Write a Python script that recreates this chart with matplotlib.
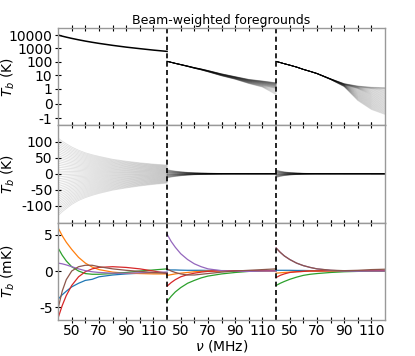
import matplotlib
matplotlib.use("Agg")
import numpy as np
import matplotlib.pyplot as plt
from matplotlib.ticker import NullLocator

# frequency nodes (MHz), shared by all three segments
nu = [40, 43, 46, 50, 55, 60, 65, 70, 80, 90, 100, 110, 120]

# --- top row (K): foreground spectra ---
top_seg1 = [10000, 8320, 7000, 5660, 4440, 3550, 2900, 2400, 1710, 1260, 970, 755, 606]
top_seg2_hi = [112, 95, 80, 65, 50, 38, 30, 23, 13, 8, 5, 3.8, 2.8]
top_seg2_lo = [108, 90, 75, 60, 45, 33, 25, 18, 9, 5, 2.4, 1.3, 0.6]
top_seg3_hi = [110, 90, 74, 58, 42, 28, 20, 14, 5.5, 2.4, 1.6, 1.3, 1.2]
top_seg3_lo = [108, 88, 72, 56, 40, 27, 19, 13, 4.8, 1.4, 0.2, -0.4, -0.73]

# --- middle row (K): residual fan envelopes ---
mid_seg1_hi = [111, 101, 93, 83, 73, 65, 59, 54, 45, 39, 34, 30, 27]
mid_seg1_lo = [-130, -118, -108, -95, -83, -74, -67, -61, -51, -44, -38, -33, -29]
mid_seg2_hi = [13, 10.5, 8.5, 6.5, 4.5, 3.2, 2.4, 1.8, 1.0, 0.6, 0.3, 0.2, 0.1]
mid_seg2_lo = [-13, -10.5, -8.5, -6.5, -4.5, -3.2, -2.4, -1.8, -1.0, -0.6, -0.3, -0.2, -0.1]
mid_seg3_hi = [12, 8.5, 6, 4, 2.5, 1.5, 1.0, 0.6, 0.3, 0.1, 0.05, 0, 0]
mid_seg3_lo = [-12, -8.5, -6, -4, -2.5, -1.5, -1.0, -0.6, -0.3, -0.1, -0.05, 0, 0]

# spread of the individual curves between the envelopes
fan_w = [0.0, 0.025, 0.05, 0.075, 0.1, 0.125, 0.15, 0.175, 0.2, 0.225, 0.25, 0.275,
         0.3, 0.325, 0.35, 0.375, 0.4, 0.425, 0.45, 0.475, 0.5, 0.525, 0.55, 0.575,
         0.6, 0.625, 0.65, 0.675, 0.7, 0.725, 0.75, 0.775, 0.8, 0.825, 0.85, 0.875,
         0.9, 0.925, 0.95, 0.975, 1.0]

# --- bottom row (mK): modes, one list per colour, three segments each ---
blue = [
    [-3.9, -3.3, -2.8, -2.2, -1.7, -1.3, -1.15, -0.8, -0.55, -0.4, -0.3, -0.25, -0.2],
    [0.15, 0.15, 0.15, 0.12, 0.1, 0.1, 0.1, 0.08, 0.06, 0.05, 0.05, 0.05, 0.05],
    [0.1, 0.1, 0.1, 0.1, 0.08, 0.08, 0.06, 0.05, 0.05, 0.05, 0.05, 0.05, 0.05],
]
orange = [
    [6.0, 4.9, 4.0, 3.0, 1.9, 1.1, 0.55, 0.2, -0.15, -0.3, -0.35, -0.4, -0.4],
    [-0.6, -0.5, -0.4, -0.3, -0.2, -0.1, -0.05, 0, 0, 0, 0, 0, 0],
    [-0.3, -0.25, -0.2, -0.15, -0.1, -0.05, 0, 0, 0, 0, 0, 0, 0],
]
green = [
    [3.2, 2.2, 1.4, 0.6, 0.0, -0.35, -0.45, -0.45, -0.35, -0.2, 0.0, 0.15, 0.3],
    [-4.2, -3.5, -2.9, -2.3, -1.7, -1.3, -0.95, -0.7, -0.4, -0.2, -0.05, 0.05, 0.1],
    [-2.0, -1.7, -1.45, -1.15, -0.85, -0.6, -0.45, -0.35, -0.2, -0.1, -0.05, 0, 0],
]
red = [
    [-6.5, -4.8, -3.4, -2.0, -0.8, -0.1, 0.3, 0.5, 0.6, 0.5, 0.3, 0.0, -0.3],
    [-2.1, -1.6, -1.2, -0.8, -0.5, -0.3, -0.15, -0.05, 0.05, 0.05, 0.05, 0.05, 0.05],
    [-0.9, -0.6, -0.4, -0.2, -0.1, -0.05, 0, 0, 0.05, 0.05, 0.05, 0.05, 0.05],
]
purple = [
    [1.1, 1.0, 0.85, 0.6, 0.3, 0.05, -0.1, -0.2, -0.3, -0.3, -0.25, -0.2, -0.15],
    [5.1, 4.1, 3.3, 2.4, 1.6, 1.0, 0.6, 0.3, 0.05, -0.05, -0.05, 0, 0],
    [3.2, 2.6, 2.1, 1.6, 1.1, 0.75, 0.5, 0.3, 0.1, 0.0, -0.02, 0, 0],
]
brown = [
    [-5.2, -2.8, -1.2, 0.0, 0.6, 0.8, 0.8, 0.6, 0.3, 0.1, -0.05, -0.2, -0.3],
    [0.3, 0.0, -0.2, -0.4, -0.55, -0.55, -0.45, -0.35, -0.15, 0.0, 0.1, 0.2, 0.3],
    [3.2, 2.6, 2.1, 1.6, 1.1, 0.75, 0.5, 0.3, 0.12, 0.05, 0.1, 0.2, 0.25],
]
mode_colors = ['tab:blue', 'tab:orange', 'tab:green', 'tab:red', 'tab:purple', 'tab:brown']

xtick_nu = [50, 60, 70, 80, 90, 100, 110]
xtick_lab = ['50', '', '70', '', '90', '', '110']

nu_a = np.array(nu, dtype=float)


def xpos(seg):
    # place segment seg on the shared x-axis (each segment is 80 MHz wide)
    return nu_a - 40 + 80 * seg


def fan(ax, seg, hi, lo, alpha):
    hi = np.array(hi)
    lo = np.array(lo)
    for w in fan_w:
        ax.plot(xpos(seg), (1 - w) * hi + w * lo, color='k', lw=0.6, alpha=alpha)


fig, axes = plt.subplots(3, 1, figsize=(4.15, 3.56), dpi=100, sharex=True)
fig.subplots_adjust(left=0.14, right=0.928, top=0.921, bottom=0.101, hspace=0)

ax1, ax2, ax3 = axes

# top
ax1.set_yscale('symlog', linthresh=1)
ax1.plot(xpos(0), top_seg1, color='k', lw=1.1)
fan(ax1, 1, top_seg2_hi, top_seg2_lo, 0.12)
fan(ax1, 2, top_seg3_hi, top_seg3_lo, 0.12)
ax1.set_ylim(-3.3, 3.3e4)
ax1.set_yticks([-1, 0, 1, 10, 100, 1000, 10000])
ax1.set_yticklabels(['-1', '0', '1', '10', '100', '1000', '10000'])
ax1.yaxis.set_minor_locator(NullLocator())
ax1.set_ylabel('$T_b$ (K)', fontsize=10)
ax1.set_title('Beam-weighted foregrounds', fontsize=9, pad=3)

# middle
fan(ax2, 0, mid_seg1_hi, mid_seg1_lo, 0.13)
fan(ax2, 1, mid_seg2_hi, mid_seg2_lo, 0.12)
fan(ax2, 2, mid_seg3_hi, mid_seg3_lo, 0.12)
ax2.set_ylim(-152, 150)
ax2.set_yticks([-100, -50, 0, 50, 100])
ax2.set_yticklabels(['-100', '-50', '0', '50', '100'])
ax2.set_ylabel('$T_b$ (K)', fontsize=10)

# bottom
for seg in range(3):
    for c, mode in zip(mode_colors, [blue, orange, green, red, purple, brown]):
        ax3.plot(xpos(seg), mode[seg], color=c, lw=0.9)
ax3.set_ylim(-6.8, 6.7)
ax3.set_yticks([-5, 0, 5])
ax3.set_yticklabels(['-5', '0', '5'])
ax3.set_ylabel('$T_b$ (mK)', fontsize=10)
ax3.set_xlabel(r'$\nu$ (MHz)', fontsize=10, labelpad=0)

ticks = []
labels = []
for seg in range(3):
    for t, l in zip(xtick_nu, xtick_lab):
        ticks.append(t - 40 + 80 * seg)
        labels.append(l)

for ax in axes:
    ax.set_xlim(0, 240)
    for b in (80, 160):
        ax.axvline(b, color='k', ls='--', lw=1.2, dashes=(3, 2))
    for s in ax.spines.values():
        s.set_color('#999999')
        s.set_linewidth(1.0)
    ax.tick_params(direction='inout', length=4, width=0.8, labelsize=10,
                   top=True, pad=2)
    ax.set_xticks(ticks)
    ax.yaxis.set_label_coords(-0.125, 0.5)
ax3.set_xticklabels(labels)
ax3.tick_params(axis='x', labelsize=10, pad=1)

fig.savefig('out.png', dpi=100)
